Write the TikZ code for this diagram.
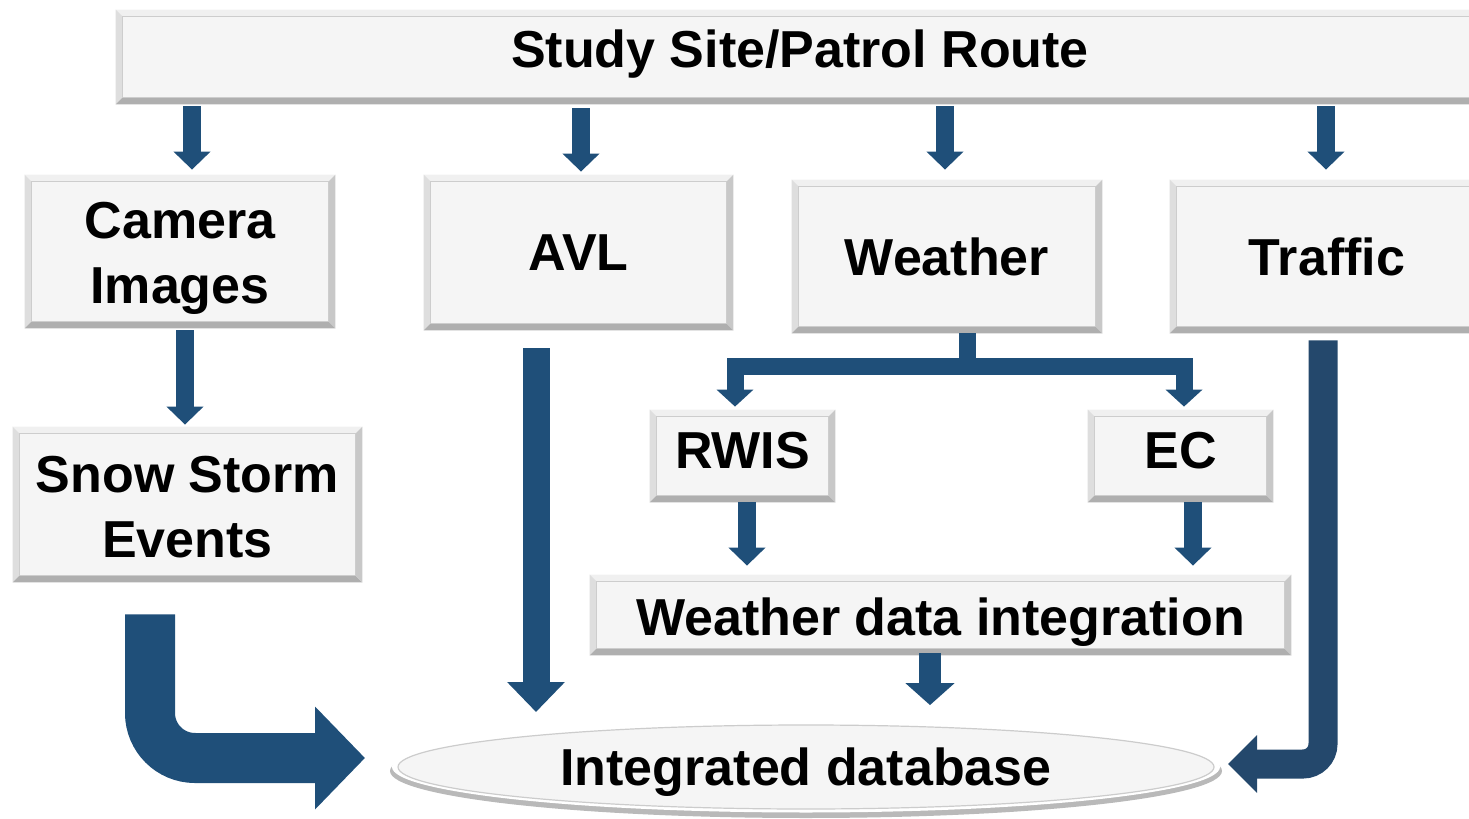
\documentclass[tikz,border=0pt]{standalone}
\usepackage{fontspec}
\setmainfont{Liberation Sans}
\usetikzlibrary{arrows.meta,shapes.geometric}
\definecolor{arrblue}{RGB}{31,79,121}
\definecolor{arrdark}{RGB}{36,72,108}
\definecolor{boxfill}{RGB}{245,245,245}
\definecolor{bvtop}{RGB}{240,240,240}
\definecolor{bvleft}{RGB}{222,222,222}
\definecolor{bvbottom}{RGB}{175,175,175}
\definecolor{bvright}{RGB}{200,200,200}
\definecolor{bvline}{RGB}{205,205,205}
\newcommand\bevelbox[1]{%
  \fill[bvtop] (#1.north west) -- (#1.north east) -- ([xshift=-3.5pt,yshift=-3.5pt]#1.north east) -- ([xshift=3.5pt,yshift=-3.5pt]#1.north west) -- cycle;
  \fill[bvleft] (#1.north west) -- ([xshift=3.5pt,yshift=-3.5pt]#1.north west) -- ([xshift=3.5pt,yshift=3.5pt]#1.south west) -- (#1.south west) -- cycle;
  \fill[bvbottom] (#1.south west) -- ([xshift=3.5pt,yshift=3.5pt]#1.south west) -- ([xshift=-3.5pt,yshift=3.5pt]#1.south east) -- (#1.south east) -- cycle;
  \fill[bvright] (#1.north east) -- (#1.south east) -- ([xshift=-3.5pt,yshift=3.5pt]#1.south east) -- ([xshift=-3.5pt,yshift=-3.5pt]#1.north east) -- cycle;
  \draw[bvline, line width=0.6pt] ([xshift=3.5pt,yshift=-3.5pt]#1.north west) rectangle ([xshift=-3.5pt,yshift=3.5pt]#1.south east);
}
\begin{document}
\begin{tikzpicture}[x=0.5pt,y=-0.5pt,
  box/.style={fill=boxfill, inner sep=0pt},
  txt/.style={inner sep=0pt, align=center, font=\bfseries\fontsize{26}{32.5}\selectfont},
  small/.style={draw=arrblue, line width=9pt, -{Triangle[width=18pt,length=9pt]}},
  medium/.style={draw=arrblue, line width=11pt, -{Triangle[width=24pt,length=11pt]}},
  avlarr/.style={draw=arrblue, line width=13.5pt, -{Triangle[width=28pt,length=15pt]}},
  branch/.style={draw=arrblue, line width=8.5pt, -{Triangle[width=18pt,length=8.5pt]}},
  bigarr/.style={draw=arrblue, line width=25pt, rounded corners=22.5pt, -{Triangle[width=50pt,length=25pt]}},
  tarr/.style={draw=arrdark, line width=14.5pt, rounded corners=10pt, -{Triangle[width=28pt,length=14.5pt]}}
]
\useasboundingbox (0,0) rectangle (1469,819);
% boxes
\node[box, minimum width=684pt, minimum height=47pt] (top) at (800,57) {};
\node[box, minimum width=155pt, minimum height=76.5pt] (cam) at (180,251.5) {};
\node[box, minimum width=154.5pt, minimum height=77.5pt] (avl) at (578.5,252.5) {};
\node[box, minimum width=155pt, minimum height=76.5pt] (wea) at (947,256.5) {};
\node[box, minimum width=157pt, minimum height=76.5pt] (tra) at (1327,256.5) {};
\node[box, minimum width=174.5pt, minimum height=77.5pt] (snow) at (187.5,504.5) {};
\node[box, minimum width=92.5pt, minimum height=46pt] (rwis) at (742.5,456) {};
\node[box, minimum width=92.5pt, minimum height=46pt] (ec) at (1180.5,456) {};
\node[box, minimum width=350.5pt, minimum height=40pt] (wdi) at (940.5,615) {};
\foreach \b in {top,cam,avl,wea,tra,snow,rwis,ec,wdi} {\bevelbox{\b}}
% database ellipse
\fill[gray!55] (806,771) ellipse [x radius=208pt, y radius=23.5pt];
\node[ellipse, fill=white, inner sep=0pt, minimum width=414pt, minimum height=45.5pt] (db) at (806,767) {};
\fill[gray!8] (806,767) ellipse [x radius=204pt, y radius=21pt];
\draw[gray!40, line width=0.6pt] (806,767) ellipse [x radius=204pt, y radius=21pt];
% texts
\node[txt] (topt) at ([yshift=1.5pt]top.center) {Study Site/Patrol Route};
\node[txt] (camt) at ([yshift=-3.5pt]cam.center) {Camera\\Images};
\node[txt] (avlt) at (avl.center) {AVL};
\node[txt] (weat) at (wea.center) {Weather};
\node[txt] (trat) at (tra.center) {Traffic};
\node[txt] (snowt) at ([yshift=-1.3pt]snow.center) {Snow Storm\\Events};
\node[txt] (rwist) at ([yshift=2.5pt]rwis.center) {RWIS};
\node[txt] (ect) at ([yshift=2.5pt]ec.center) {EC};
\node[txt] (wdit) at ([yshift=-3.5pt]wdi.center) {Weather data integration};
\node[txt] (dbt) at ([yshift=-2.5pt]db.center) {Integrated database};
% arrows from top
\draw[small, shorten <=1pt, shorten >=2.5pt] (192,0 |- top.south) -- (192,0 |- cam.north);
\draw[small, shorten <=2pt, shorten >=1.5pt] (581,0 |- top.south) -- (581,0 |- avl.north);
\draw[small, shorten <=1pt, shorten >=5pt] (945,0 |- top.south) -- (945,0 |- wea.north);
\draw[small, shorten <=1pt, shorten >=5pt] (1326,0 |- top.south) -- (1326,0 |- tra.north);
% camera to snow
\draw[small, shorten <=1pt, shorten >=1pt] (185,0 |- cam.south) -- (185,0 |- snow.north);
% weather branch
\draw[branch, shorten >=1.5pt] (967,0 |- wea.south) -- (967,366) -- (735,366) -- (735,0 |- rwis.north);
\draw[branch, shorten >=1.5pt] (967,0 |- wea.south) -- (967,366) -- (1184,366) -- (1184,0 |- ec.north);
% rwis / ec to wdi
\draw[small, shorten >=4.5pt] (747,0 |- rwis.south) -- (747,0 |- wdi.north);
\draw[small, shorten >=4.5pt] (1193,0 |- ec.south) -- (1193,0 |- wdi.north);
% wdi to db
\draw[medium, shorten <=-1pt, shorten >=8pt] (930,0 |- wdi.south) -- (930,0 |- db.north);
% avl to db
\draw[avlarr, shorten <=9pt] (536,0 |- avl.south) -- (536,712);
% snow to db
\draw[bigarr, shorten <=16pt] (150,0 |- snow.south) -- (150,758) -- (365,758);
% traffic to db
\draw[tarr, shorten <=3.5pt] (1323,0 |- tra.south) -- (1323,764) -- (1228,764);
\end{tikzpicture}
\end{document}
